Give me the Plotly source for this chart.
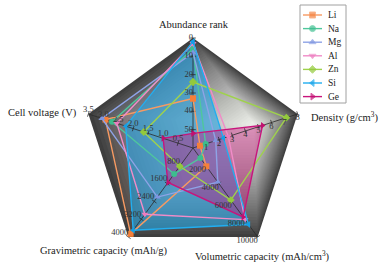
import numpy as np
import plotly.graph_objects as go

# ---------------- data ----------------
axis_names = ["Abundance rank", "Density", "Volumetric capacity", "Gravimetric capacity", "Cell voltage"]
axis_angles = [90, 18, -54, -126, 162]
axis_max = [60, 8, 10000, 4000, 3.5]
axis_reversed = [True, False, False, False, False]

metals = ["Li", "Na", "Mg", "Al", "Zn", "Si", "Ge"]
abundance = [33, 6, 8, 3, 24, 2, 52]
density = [0.534, 0.97, 1.74, 2.70, 7.14, 2.33, 5.32]
volumetric = [2062, 1131, 3833, 8046, 5854, 8600, 7750]
gravimetric = [3860, 1166, 2205, 2980, 820, 3700, 1550]
voltage = [2.93, 2.71, 3.05, 2.55, 1.65, 2.25, 1.0]

abund_ticks = [0, 10, 20, 30, 40, 50]
dens_ticks = [1, 2, 3, 4, 5, 6, 7, 8]
vol_ticks = [2000, 4000, 6000, 8000, 10000]
grav_ticks = [800, 1600, 2400, 3200, 4000]
volt_ticks = [0.5, 1.0, 1.5, 2.0, 2.5, 3.0, 3.5]

# ---------------- styles ----------------
line_colors = ["#f79a62", "#4fc79c", "#8ea3e6", "#f08cc8", "#9fd24c", "#22aef0", "#c8157c"]
marker_colors = ["#f57f3a", "#3dbd8e", "#7f96e0", "#ec7cbe", "#93c93c", "#159fe6", "#c0106f"]
symbols = ["square", "circle", "triangle-up", "triangle-down", "diamond", "triangle-left", "triangle-right"]
fill_colors = ["rgba(247,154,98,0.06)", "rgba(79,199,156,0.06)", "rgba(142,163,230,0.08)",
               "rgba(240,140,200,0.10)", "rgba(159,210,76,0.04)", "rgba(30,165,230,0.58)",
               "rgba(200,21,124,0.42)"]
FONT = "Liberation Serif"
W, H = 386, 265
CX, CY, R = 193, 148, 110


def norm(values, k):
    m = axis_max[k]
    return [(1 - v / m) if axis_reversed[k] else v / m for v in values]


cols = [abundance, density, volumetric, gravimetric, voltage]
normed = [norm(c, k) for k, c in enumerate(cols)]

fig = go.Figure()

# ---------------- gradient background (pentagons toward a light focal point) ----------------
outer = np.array([[np.cos(np.radians(a)), np.sin(np.radians(a))] for a in axis_angles])
focal = np.array([0.55, 0.22])
n_lev = 40
dark = np.array([62, 62, 62])
light = np.array([238, 238, 238])
for i in range(n_lev):
    s = 1 - i / n_lev
    pts = focal + s * (outer - focal)
    t = (i / (n_lev - 1)) ** 0.85
    c = dark + (light - dark) * t
    rr = np.hypot(pts[:, 0], pts[:, 1])
    th = np.degrees(np.arctan2(pts[:, 1], pts[:, 0]))
    fig.add_trace(go.Scatterpolar(
        r=list(rr) + [rr[0]], theta=list(th) + [th[0]], mode="lines",
        line=dict(width=0), fill="toself",
        fillcolor="rgb(%d,%d,%d)" % tuple(c.astype(int)),
        showlegend=False, hoverinfo="skip"))

# ---------------- fills ----------------
for j, m in enumerate(metals):
    rv = [normed[k][j] for k in range(5)]
    fig.add_trace(go.Scatterpolar(
        r=rv + [rv[0]], theta=axis_angles + [axis_angles[0]], mode="lines",
        line=dict(width=0), fill="toself", fillcolor=fill_colors[j],
        showlegend=False, hoverinfo="skip"))

# ---------------- spokes + ticks ----------------
tick_lists = [abund_ticks, dens_ticks, vol_ticks, grav_ticks, volt_ticks]
tick_angles = [90, -18, 54, -54, 18]
for k in range(5):
    fig.add_trace(go.Scatterpolar(
        r=[0, 1], theta=[axis_angles[k]] * 2, mode="lines",
        line=dict(color="#2b2b2b", width=0.8), showlegend=False, hoverinfo="skip"))
    tr = norm(tick_lists[k], k)
    fig.add_trace(go.Scatterpolar(
        r=tr, theta=[axis_angles[k]] * len(tr), mode="markers",
        marker=dict(symbol="line-ns", size=4, angle=tick_angles[k],
                    line=dict(color="#2b2b2b", width=0.8)),
        showlegend=False, hoverinfo="skip"))

# ---------------- series ----------------
for j, m in enumerate(metals):
    rv = [normed[k][j] for k in range(5)]
    fig.add_trace(go.Scatterpolar(
        r=rv + [rv[0]], theta=axis_angles + [axis_angles[0]], mode="lines+markers", name=m,
        line=dict(color=line_colors[j], width=1.4),
        marker=dict(symbol=symbols[j], size=6, color=marker_colors[j]),
        showlegend=False))

# ---------------- tick labels ----------------
tick_text = [
    [str(v) for v in abund_ticks],
    [str(v) for v in dens_ticks],
    [str(v) for v in vol_ticks],
    [str(v) for v in grav_ticks],
    ["%.1f" % v for v in volt_ticks],
]
tick_pos = ["middle left", "bottom center", "bottom left", "top left", "top center"]
for k in range(5):
    tr = norm(tick_lists[k], k)
    fig.add_trace(go.Scatterpolar(
        r=tr, theta=[axis_angles[k]] * len(tr), mode="text", text=tick_text[k],
        textposition=tick_pos[k],
        textfont=dict(family=FONT, size=8.5, color="#333333"),
        showlegend=False, hoverinfo="skip"))

# ---------------- compact legend (own small cartesian area) ----------------
LEG_X0, LEG_X1, LEG_Y0, LEG_Y1 = 300, 346, 5, 103
ITEM0, ITEM_STEP = 15, 13.6
for j, m in enumerate(metals):
    fig.add_trace(go.Scatter(
        x=[303, 312.5, 322], y=[j, j, j], mode="lines+markers", xaxis="x", yaxis="y",
        line=dict(color=line_colors[j], width=1.4),
        marker=dict(symbol=symbols[j], size=[0, 6, 0], color=marker_colors[j]),
        showlegend=False, hoverinfo="skip"))


def px(x, y):
    return x / W, 1 - y / H


annotations = []
for j, m in enumerate(metals):
    annotations.append(dict(text=m, x=326, y=j, xref="x", yref="y", xanchor="left",
                            yanchor="middle", showarrow=False,
                            font=dict(family=FONT, size=9.5, color="#222222")))

annos = [
    ("Abundance rank", 194, 25, "center"),
    ("Density (g/cm<sup>3</sup>)", 309, 117, "left"),
    ("Volumetric capacity (mAh/cm<sup>3</sup>)", 262, 256, "center"),
    ("Gravimetric capacity (mAh/g)", 104, 251, "center"),
    ("Cell voltage (V)", 79, 113, "right"),
]
for txt, x, y, anc in annos:
    ax, ay = px(x, y)
    annotations.append(dict(text=txt, x=ax, y=ay, xref="paper", yref="paper",
                            xanchor=anc, yanchor="middle", showarrow=False,
                            font=dict(family=FONT, size=10.5, color="#222222")))

y_top = (LEG_Y0 - ITEM0) / ITEM_STEP
y_bot = (LEG_Y1 - ITEM0) / ITEM_STEP

fig.update_layout(
    width=W, height=H, margin=dict(l=0, r=0, t=0, b=0),
    paper_bgcolor="white", plot_bgcolor="white",
    annotations=annotations,
    shapes=[dict(type="rect", xref="paper", yref="paper",
                 x0=LEG_X0 / W, x1=LEG_X1 / W, y0=1 - LEG_Y1 / H, y1=1 - LEG_Y0 / H,
                 line=dict(color="#a0a0a0", width=1), fillcolor="rgba(0,0,0,0)")],
    xaxis=dict(domain=[LEG_X0 / W, LEG_X1 / W], range=[LEG_X0, LEG_X1], visible=False,
               fixedrange=True),
    yaxis=dict(domain=[1 - LEG_Y1 / H, 1 - LEG_Y0 / H], range=[y_bot, y_top], visible=False,
               fixedrange=True),
    polar=dict(
        domain=dict(x=[(CX - R) / W, (CX + R) / W], y=[1 - (CY + R) / H, 1 - (CY - R) / H]),
        gridshape="linear", bgcolor="rgba(0,0,0,0)",
        radialaxis=dict(range=[0, 1], visible=False, showgrid=False),
        angularaxis=dict(tickmode="array", tickvals=[a % 360 for a in axis_angles],
                         showticklabels=False, ticks="", showgrid=False, showline=False,
                         direction="counterclockwise", rotation=0),
    ),
    showlegend=False,
)

fig.write_html("out.html", config={"displayModeBar": False},
               post_script="document.body.style.margin='0';")
